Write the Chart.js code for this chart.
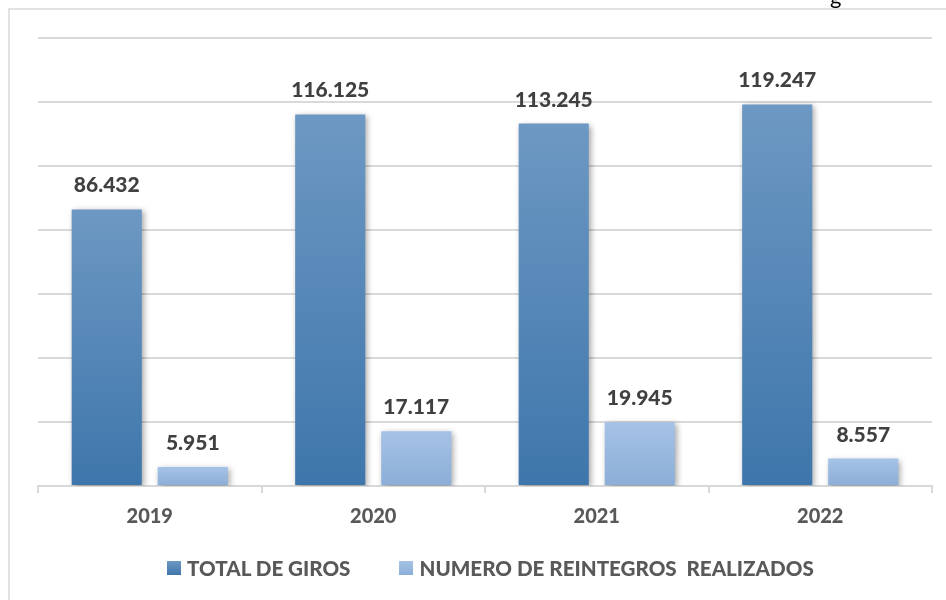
<!DOCTYPE html>
<html>
<head>
<meta charset="utf-8">
<script src="https://cdn.jsdelivr.net/npm/chart.js@4.4.0/dist/chart.umd.min.js"></script>
<style>
  body { margin: 0; background: #fff; }
  #wrap { position: relative; width: 946px; height: 600px; overflow: hidden; }
  #chart { position: absolute; left: 0; top: 0; }
  #cut { position: absolute; left: 830px; top: -18px; font: 22px Lato, sans-serif; color: #000; }
  #legend { position: absolute; left: 167px; top: 556px; display: flex; align-items: center;
            font: 900 20.6px Lato, sans-serif; color: #595959; white-space: pre; }
  #legend .item { display: flex; align-items: center; }
  #legend .box { width: 14px; height: 14px; margin-right: 6px; }
</style>
</head>
<body>
<div id="wrap">
  <canvas id="chart" width="946" height="600"></canvas>
  <span id="cut">g</span>
  <div id="legend"></div>
</div>
<script>
// data
const years = ['2019', '2020', '2021', '2022'];
const totalGiros = [86432, 116125, 113245, 119247];
const reintegros = [5951, 17117, 19945, 8557];
const seriesNames = ['TOTAL DE GIROS', 'NUMERO DE REINTEGROS  REALIZADOS'];

// colours: top / bottom of each bar
const barTop = ['#6d98c3', '#a6c3e6'];
const barBottom = ['#3e76ab', '#8badd7'];

// 86432 -> 86.432
const fmt = v => v.toString().replace(/\B(?=(\d{3})+(?!\d))/g, '.');

// gradient for every bar, from its top to the axis
const barGradient = (top, bottom) => (ctx) => {
  const chart = ctx.chart;
  if (!chart.chartArea || ctx.raw === undefined) return bottom;
  const y = chart.scales.y;
  const g = chart.ctx.createLinearGradient(0, y.getPixelForValue(ctx.raw), 0, y.getPixelForValue(0));
  g.addColorStop(0, top);
  g.addColorStop(1, bottom);
  return g;
};

// frame round the chart + bar shadows
const framePlugin = {
  id: 'frame',
  beforeDraw(chart) {
    const c = chart.ctx;
    c.save();
    c.strokeStyle = '#d9d9d9';
    c.lineWidth = 1.5;
    c.strokeRect(9, 9, 1000, 1000);
    c.restore();
  },
  beforeDatasetsDraw(chart) {
    const c = chart.ctx;
    c.save();
    c.shadowColor = 'rgba(0,0,0,0.35)';
    c.shadowBlur = 6;
    c.shadowOffsetX = 2;
    c.shadowOffsetY = 2;
  },
  afterDatasetsDraw(chart) {
    chart.ctx.restore();
  }
};

// value labels above bars
const valueLabels = {
  id: 'valueLabels',
  afterDatasetsDraw(chart) {
    const c = chart.ctx;
    c.save();
    c.font = '900 21px Lato';
    c.fillStyle = '#404040';
    c.textAlign = 'center';
    c.textBaseline = 'alphabetic';
    chart.data.datasets.forEach((ds, i) => {
      chart.getDatasetMeta(i).data.forEach((bar, j) => {
        c.fillText(fmt(ds.data[j]), bar.x, bar.y - 17);
      });
    });
    c.restore();
  }
};

const config = {
  type: 'bar',
  data: {
    labels: years,
    datasets: [
      {
        label: seriesNames[0],
        data: totalGiros,
        backgroundColor: barGradient(barTop[0], barBottom[0]),
        categoryPercentage: 0.77,
        barPercentage: 0.815,
      },
      {
        label: seriesNames[1],
        data: reintegros,
        backgroundColor: barGradient(barTop[1], barBottom[1]),
        categoryPercentage: 0.77,
        barPercentage: 0.815,
      },
    ],
  },
  options: {
    responsive: false,
    animation: false,
    layout: { padding: { top: 38, left: 38, right: 14, bottom: 69 } },
    scales: {
      x: {
        grid: { drawOnChartArea: false, drawTicks: true, tickLength: 7, color: '#d9d9d9', lineWidth: 2 },
        border: { color: '#d9d9d9', width: 2 },
        ticks: { font: { family: 'Lato', weight: '900', size: 20 }, color: '#595959', padding: 12 },
        afterFit(scale) { scale.height = 45; },
      },
      y: {
        min: 0,
        max: 140000,
        ticks: { display: false, stepSize: 20000 },
        border: { display: false },
        grid: { color: '#d9d9d9', lineWidth: 2, drawTicks: false },
        afterFit(scale) { scale.width = 0; },
      },
    },
    plugins: {
      legend: { display: false },
      tooltip: { enabled: false },
    },
  },
  plugins: [framePlugin, valueLabels],
};

const myChart = new Chart(document.getElementById('chart'), config);

// legend below the axis
const legend = document.getElementById('legend');
seriesNames.forEach((name, i) => {
  const item = document.createElement('span');
  item.className = 'item';
  if (i > 0) item.style.marginLeft = '49px';
  const box = document.createElement('span');
  box.className = 'box';
  box.style.background = 'linear-gradient(' + barTop[i] + ', ' + barBottom[i] + ')';
  item.appendChild(box);
  item.appendChild(document.createTextNode(name));
  legend.appendChild(item);
});
</script>
</body>
</html>
